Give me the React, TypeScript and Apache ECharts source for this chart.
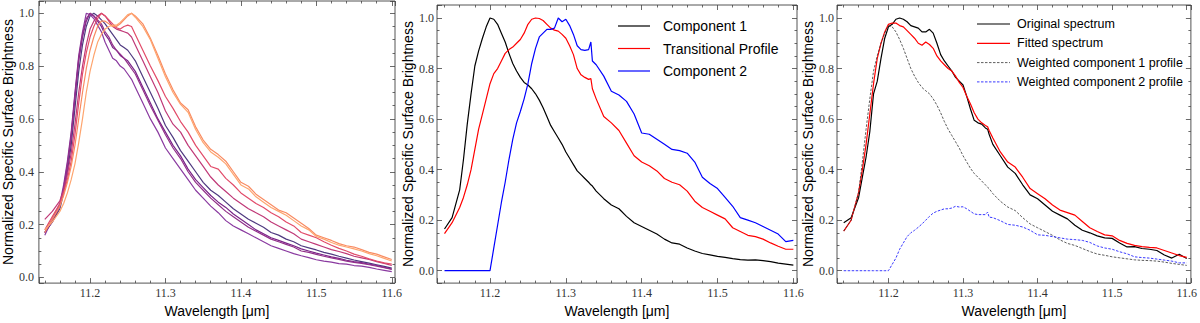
import React, { useEffect, useRef } from "react";
import * as echarts from "echarts";

// ---------- Panel 1: spectra at several positions ----------
const WL1 = [11.14, 11.15, 11.16, 11.165, 11.17, 11.175, 11.18, 11.185, 11.19, 11.195, 11.2, 11.205, 11.21, 11.215, 11.22, 11.225, 11.23, 11.235, 11.24, 11.245, 11.25, 11.255, 11.26, 11.27, 11.28, 11.29, 11.3, 11.31, 11.32, 11.33, 11.34, 11.35, 11.36, 11.37, 11.38, 11.39, 11.4, 11.41, 11.42, 11.43, 11.44, 11.45, 11.46, 11.47, 11.48, 11.49, 11.5, 11.51, 11.52, 11.53, 11.54, 11.55, 11.56, 11.57, 11.58, 11.59, 11.6];

const SPEC_A = [0.16, 0.22, 0.28, 0.35, 0.44, 0.55, 0.70, 0.84, 0.93, 1.0, 0.995, 0.98, 0.955, 0.93, 0.89, 0.86, 0.83, 0.82, 0.80, 0.79, 0.77, 0.75, 0.72,
  0.66, 0.60, 0.55, 0.49, 0.45, 0.41, 0.37, 0.33, 0.30, 0.27, 0.245, 0.215, 0.195, 0.18, 0.165, 0.15, 0.135, 0.12, 0.11, 0.1, 0.09, 0.082, 0.075, 0.067, 0.062, 0.058, 0.052, 0.05, 0.045, 0.043, 0.038, 0.032, 0.027, 0.022];
const SPEC_B = [0.17, 0.21, 0.27, 0.33, 0.42, 0.53, 0.68, 0.82, 0.91, 0.97, 1.0, 0.99, 0.97, 0.95, 0.92, 0.90, 0.87, 0.86, 0.84, 0.83, 0.82, 0.80, 0.78,
  0.72, 0.66, 0.60, 0.55, 0.50, 0.46, 0.41, 0.37, 0.34, 0.31, 0.285, 0.265, 0.24, 0.22, 0.2, 0.18, 0.165, 0.15, 0.14, 0.13, 0.12, 0.108, 0.1, 0.092, 0.085, 0.078, 0.072, 0.065, 0.06, 0.056, 0.05, 0.045, 0.038, 0.032];
const SPEC_C = [0.17, 0.21, 0.26, 0.32, 0.40, 0.50, 0.64, 0.78, 0.88, 0.95, 0.99, 1.0, 0.99, 0.975, 0.96, 0.94, 0.92, 0.90, 0.88, 0.87, 0.86, 0.84, 0.82,
  0.76, 0.70, 0.64, 0.575, 0.53, 0.48, 0.44, 0.40, 0.36, 0.33, 0.31, 0.285, 0.26, 0.24, 0.22, 0.205, 0.19, 0.17, 0.16, 0.145, 0.135, 0.12, 0.112, 0.104, 0.095, 0.088, 0.08, 0.073, 0.066, 0.06, 0.054, 0.048, 0.042, 0.035];
const SPEC_D = [0.17, 0.22, 0.27, 0.34, 0.43, 0.54, 0.69, 0.83, 0.92, 0.98, 1.0, 0.99, 0.975, 0.96, 0.93, 0.91, 0.88, 0.86, 0.845, 0.83, 0.81, 0.79, 0.77,
  0.71, 0.65, 0.595, 0.54, 0.49, 0.45, 0.40, 0.36, 0.33, 0.30, 0.275, 0.25, 0.23, 0.21, 0.19, 0.175, 0.16, 0.145, 0.135, 0.125, 0.115, 0.10, 0.095, 0.087, 0.08, 0.074, 0.068, 0.062, 0.057, 0.053, 0.048, 0.043, 0.037, 0.03];
const SPEC_E = [0.22, 0.25, 0.29, 0.33, 0.39, 0.47, 0.58, 0.70, 0.80, 0.88, 0.94, 0.97, 0.99, 1.0, 0.99, 0.97, 0.95, 0.94, 0.935, 0.93, 0.925, 0.91, 0.88,
  0.82, 0.76, 0.70, 0.63, 0.58, 0.55, 0.50, 0.46, 0.42, 0.38, 0.35, 0.325, 0.30, 0.28, 0.26, 0.245, 0.23, 0.21, 0.195, 0.18, 0.165, 0.145, 0.135, 0.125, 0.115, 0.105, 0.098, 0.09, 0.08, 0.074, 0.068, 0.06, 0.053, 0.045];
const SPEC_F = [0.18, 0.23, 0.28, 0.32, 0.37, 0.44, 0.54, 0.66, 0.77, 0.85, 0.91, 0.95, 0.98, 1.0, 0.99, 0.975, 0.96, 0.945, 0.94, 0.95, 0.955, 0.95, 0.92,
  0.86, 0.80, 0.745, 0.685, 0.64, 0.59, 0.55, 0.50, 0.46, 0.42, 0.41, 0.375, 0.35, 0.32, 0.30, 0.28, 0.265, 0.245, 0.23, 0.21, 0.195, 0.17, 0.16, 0.15, 0.135, 0.122, 0.11, 0.1, 0.088, 0.08, 0.07, 0.062, 0.055, 0.05];
const SPEC_G = [0.17, 0.22, 0.27, 0.31, 0.36, 0.42, 0.50, 0.60, 0.70, 0.79, 0.86, 0.91, 0.95, 0.97, 0.97, 0.96, 0.95, 0.95, 0.96, 0.975, 0.99, 1.0, 0.99,
  0.96, 0.905, 0.84, 0.77, 0.71, 0.66, 0.635, 0.57, 0.52, 0.485, 0.465, 0.44, 0.40, 0.36, 0.345, 0.315, 0.295, 0.275, 0.255, 0.245, 0.225, 0.205, 0.185, 0.16, 0.15, 0.14, 0.128, 0.12, 0.115, 0.105, 0.095, 0.088, 0.078, 0.068];
const SPEC_H = [0.18, 0.21, 0.25, 0.28, 0.32, 0.37, 0.43, 0.51, 0.60, 0.70, 0.78, 0.84, 0.89, 0.92, 0.94, 0.95, 0.955, 0.955, 0.965, 0.98, 0.995, 1.0, 0.985,
  0.95, 0.90, 0.83, 0.76, 0.70, 0.655, 0.625, 0.56, 0.51, 0.475, 0.455, 0.43, 0.39, 0.35, 0.335, 0.305, 0.285, 0.265, 0.25, 0.235, 0.215, 0.195, 0.18, 0.155, 0.145, 0.132, 0.122, 0.115, 0.108, 0.1, 0.09, 0.082, 0.072, 0.062];

const SPECTRA = [SPEC_C, SPEC_A, SPEC_B, SPEC_D, SPEC_E, SPEC_F, SPEC_G, SPEC_H];
const SPECTRA_COLORS = ["#4f3a80", "#8a3aa0", "#7a2589", "#92308a", "#c03a78", "#e24c6a", "#f98b62", "#fea56f"];

// ---------- Panels 2 & 3 ----------
const WL2 = [11.14, 11.15, 11.16, 11.165, 11.17, 11.175, 11.18, 11.185, 11.19, 11.195, 11.2, 11.205, 11.21, 11.215, 11.22, 11.225, 11.23, 11.235, 11.24, 11.245, 11.25, 11.255, 11.26, 11.265, 11.27, 11.275, 11.28, 11.285, 11.29, 11.295, 11.3, 11.305, 11.31, 11.315, 11.32, 11.325, 11.33, 11.333, 11.335, 11.34, 11.35, 11.36, 11.37, 11.38, 11.39, 11.4, 11.41, 11.42, 11.43, 11.44, 11.45, 11.46, 11.47, 11.48, 11.49, 11.5, 11.51, 11.52, 11.53, 11.54, 11.55, 11.56, 11.57, 11.58, 11.59, 11.6];

const COMPONENT_1 = [0.165, 0.21, 0.32, 0.44, 0.58, 0.70, 0.81, 0.87, 0.92, 0.965, 1.0, 0.995, 0.975, 0.94, 0.905, 0.86, 0.82, 0.79, 0.765, 0.745, 0.735, 0.72, 0.70, 0.675, 0.645, 0.61, 0.575, 0.55, 0.525, 0.50, 0.47, 0.445, 0.42, 0.395, 0.38, 0.365, 0.35, 0.34, 0.335, 0.315, 0.285, 0.26, 0.245, 0.215, 0.19, 0.175, 0.16, 0.145, 0.125, 0.11, 0.105, 0.09, 0.078, 0.068, 0.063, 0.057, 0.053, 0.048, 0.044, 0.042, 0.043, 0.04, 0.036, 0.03, 0.026, 0.022];
const TRANSITIONAL = [0.147, 0.19, 0.25, 0.29, 0.34, 0.40, 0.48, 0.56, 0.62, 0.68, 0.74, 0.78, 0.80, 0.83, 0.86, 0.875, 0.885, 0.90, 0.915, 0.94, 0.975, 0.995, 1.0, 0.998, 0.99, 0.975, 0.96, 0.952, 0.948, 0.935, 0.92, 0.89, 0.855, 0.80, 0.775, 0.765, 0.757, 0.76, 0.72, 0.68, 0.61, 0.585, 0.555, 0.505, 0.455, 0.43, 0.415, 0.395, 0.365, 0.35, 0.34, 0.315, 0.275, 0.25, 0.235, 0.22, 0.205, 0.17, 0.155, 0.14, 0.135, 0.125, 0.11, 0.097, 0.085, 0.085];
const COMPONENT_2 = [0, 0, 0, 0, 0, 0, 0, 0, 0, 0, 0, 0.09, 0.18, 0.27, 0.35, 0.44, 0.52, 0.585, 0.63, 0.68, 0.74, 0.82, 0.88, 0.925, 0.94, 0.955, 0.955, 0.96, 1.0, 0.985, 0.995, 0.97, 0.935, 0.89, 0.875, 0.872, 0.875, 0.905, 0.83, 0.815, 0.77, 0.71, 0.695, 0.67, 0.62, 0.545, 0.54, 0.52, 0.50, 0.48, 0.475, 0.465, 0.43, 0.37, 0.345, 0.325, 0.29, 0.255, 0.21, 0.2, 0.19, 0.175, 0.16, 0.145, 0.115, 0.12];

const ORIGINAL = [0.19, 0.21, 0.29, 0.37, 0.45, 0.55, 0.70, 0.75, 0.84, 0.92, 0.965, 0.975, 0.995, 1.0, 0.995, 0.985, 0.97, 0.965, 0.96, 0.945, 0.945, 0.955, 0.94, 0.9, 0.855, 0.83, 0.81, 0.79, 0.765, 0.75, 0.735, 0.69, 0.64, 0.595, 0.585, 0.58, 0.565, 0.56, 0.54, 0.5, 0.455, 0.41, 0.385, 0.34, 0.30, 0.285, 0.26, 0.235, 0.22, 0.205, 0.18, 0.16, 0.15, 0.138, 0.13, 0.128, 0.11, 0.094, 0.095, 0.088, 0.085, 0.08, 0.062, 0.05, 0.065, 0.048];
const FITTED = [0.157, 0.2, 0.31, 0.40, 0.50, 0.62, 0.74, 0.84, 0.90, 0.945, 0.975, 0.98, 0.98, 0.97, 0.965, 0.95, 0.935, 0.92, 0.9, 0.892, 0.905, 0.895, 0.88, 0.85, 0.83, 0.815, 0.8, 0.79, 0.77, 0.745, 0.725, 0.69, 0.66, 0.625, 0.6, 0.585, 0.575, 0.57, 0.555, 0.525, 0.47, 0.43, 0.41, 0.37, 0.325, 0.305, 0.285, 0.26, 0.24, 0.23, 0.22, 0.195, 0.17, 0.155, 0.142, 0.138, 0.12, 0.108, 0.1, 0.095, 0.092, 0.09, 0.08, 0.07, 0.06, 0.053];
const WEIGHTED_1 = [0.157, 0.2, 0.31, 0.43, 0.56, 0.68, 0.79, 0.85, 0.9, 0.94, 0.97, 0.965, 0.945, 0.915, 0.88, 0.84, 0.8, 0.77, 0.745, 0.725, 0.712, 0.70, 0.68, 0.655, 0.625, 0.59, 0.56, 0.535, 0.51, 0.485, 0.455, 0.43, 0.405, 0.385, 0.37, 0.355, 0.34, 0.33, 0.325, 0.305, 0.275, 0.252, 0.238, 0.21, 0.185, 0.17, 0.155, 0.14, 0.122, 0.108, 0.1, 0.088, 0.076, 0.066, 0.061, 0.055, 0.051, 0.047, 0.043, 0.041, 0.04, 0.038, 0.034, 0.029, 0.025, 0.021];
const WEIGHTED_2 = [0, 0, 0, 0, 0, 0, 0, 0, 0, 0, 0, 0.025, 0.05, 0.085, 0.11, 0.135, 0.15, 0.16, 0.172, 0.185, 0.2, 0.215, 0.228, 0.235, 0.24, 0.245, 0.245, 0.248, 0.255, 0.252, 0.253, 0.245, 0.235, 0.225, 0.222, 0.222, 0.222, 0.232, 0.212, 0.21, 0.198, 0.183, 0.18, 0.173, 0.16, 0.142, 0.14, 0.135, 0.13, 0.125, 0.123, 0.12, 0.112, 0.098, 0.09, 0.085, 0.075, 0.067, 0.055, 0.052, 0.05, 0.046, 0.042, 0.038, 0.031, 0.031];

const X_TITLE = "Wavelength [μm]";
const Y_TITLE = "Normalized Specific Surface Brightness";
const LEGEND_2 = ["Component 1", "Transitional Profile", "Component 2"];
const LEGEND_3 = ["Original spectrum", "Fitted spectrum", "Weighted component 1 profile", "Weighted component 2 profile"];

const COL_C1 = "#000000";
const COL_TR = "#ff0000";
const COL_C2 = "#0000ff";
const COL_W1 = "#333333";
const COL_W2 = "#3a3aff";
const DASH = [2.5, 1.5];

const zip = (xs: number[], ys: number[]) => xs.map((x, i) => [x, ys[i]]);

const TICK_COLOR = "#444";
const fmtX = (v: number) => {
  const r = Math.round(v * 10);
  return Math.abs(v * 10 - r) < 1e-6 ? (r / 10).toFixed(1) : "";
};
const fmtY = (v: number) => {
  const r = Math.round(v * 5);
  return Math.abs(v * 5 - r) < 1e-6 && r >= 0 ? (r / 5).toFixed(1) : "";
};

function mkX(gi: number, min: number, max: number, top: boolean, nameGap: number) {
  return {
    type: "value", gridIndex: gi, min, max, position: top ? "top" : "bottom",
    splitNumber: 5,
    axisLine: { show: false, onZero: false },
    axisTick: { show: true, inside: true, length: 5, lineStyle: { color: TICK_COLOR, width: 0.8 } },
    minorTick: { show: true, splitNumber: 5, length: 2.5, lineStyle: { color: TICK_COLOR, width: 0.8 } },
    splitLine: { show: false },
    axisLabel: { show: !top, margin: 4, fontFamily: "Liberation Serif", fontSize: 12, color: "#333", formatter: fmtX },
    name: top ? "" : X_TITLE, nameLocation: "middle", nameGap,
    nameTextStyle: { fontFamily: "Liberation Sans", fontSize: 14, color: "#000" },
  };
}
function mkY(gi: number, min: number, max: number, right: boolean, margin: number) {
  return {
    type: "value", gridIndex: gi, min, max, position: right ? "right" : "left",
    splitNumber: 5,
    axisLine: { show: false, onZero: false },
    axisTick: { show: true, inside: true, length: 5, lineStyle: { color: TICK_COLOR, width: 0.8 } },
    minorTick: { show: true, splitNumber: 4, length: 2.5, lineStyle: { color: TICK_COLOR, width: 0.8 } },
    splitLine: { show: false },
    axisLabel: { show: !right, margin, fontFamily: "Liberation Serif", fontSize: 12, color: "#333", formatter: fmtY },
    name: right ? "" : Y_TITLE, nameLocation: "middle", nameGap: 20,
    nameTextStyle: { fontFamily: "Liberation Sans", fontSize: 14, color: "#000" },
  };
}

function line(name: string, gi: number, xs: number[], ys: number[], color: string, width = 1.2, type: any = "solid") {
  return {
    type: "line", name, xAxisIndex: gi * 2, yAxisIndex: gi * 2,
    data: zip(xs, ys), showSymbol: false, symbol: "none",
    lineStyle: { color, width, type }, itemStyle: { color },
    z: 3,
  };
}

function legendGraphics(names: string[], colors: string[], widths: number[], dashes: any[], x1: number, x2: number, tx: number, y0: number, dy: number, fontSize: number) {
  const els: any[] = [];
  names.forEach((n, i) => {
    const y = y0 + i * dy;
    els.push({
      type: "line", silent: true, z: 10,
      shape: { x1, y1: y, x2, y2: y },
      style: { stroke: colors[i], lineWidth: widths[i], lineDash: dashes[i] || null },
    });
    els.push({
      type: "text", silent: true, z: 10, x: tx, y,
      style: { text: n, fill: "#000", font: `${fontSize}px "Liberation Sans"`, textVerticalAlign: "middle", verticalAlign: "middle", textAlign: "left" },
    });
  });
  return els;
}

export default function App() {
  const ref = useRef<HTMLDivElement>(null);
  useEffect(() => {
    if (!ref.current) return;
    const chart = echarts.init(ref.current, undefined, { renderer: "svg" });
    const gridBase = { show: true, borderColor: "#555", borderWidth: 1, backgroundColor: "transparent", containLabel: false };
    const P1X: [number, number] = [11.1322, 11.6043];
    const P2X: [number, number] = [11.1301, 11.6048];
    const P3X: [number, number] = [11.131, 11.6056];
    const P1Y: [number, number] = [-0.0215, 1.0464];
    const P23Y: [number, number] = [-0.049, 1.0514];

    const series: any[] = [];
    SPECTRA.forEach((s, i) => series.push(line("spec" + i, 0, WL1, s, SPECTRA_COLORS[i], 1.2)));
    series.push(line(LEGEND_2[0], 1, WL2, COMPONENT_1, COL_C1, 1.2));
    series.push(line(LEGEND_2[1], 1, WL2, TRANSITIONAL, COL_TR, 1.2));
    series.push(line(LEGEND_2[2], 1, WL2, COMPONENT_2, COL_C2, 1.2));
    series.push(line(LEGEND_3[0], 2, WL2, ORIGINAL, COL_C1, 1.2));
    series.push(line(LEGEND_3[1], 2, WL2, FITTED, COL_TR, 1.2));
    series.push(line(LEGEND_3[2], 2, WL2, WEIGHTED_1, COL_W1, 0.8, DASH));
    series.push(line(LEGEND_3[3], 2, WL2, WEIGHTED_2, COL_W2, 1.0, DASH));

    const graphic = [
      ...legendGraphics(LEGEND_2, [COL_C1, COL_TR, COL_C2], [1.2, 1.2, 1.2], [null, null, null], 618, 650, 663, 26, 22.5, 14),
      ...legendGraphics(LEGEND_3, [COL_C1, COL_TR, COL_W1, COL_W2], [1.2, 1.2, 0.8, 1.0], [null, null, DASH, DASH], 977, 1010, 1017, 24, 19.3, 12.5),
    ];

    chart.setOption({
      animation: false,
      backgroundColor: "#ffffff",
      grid: [
        { ...gridBase, left: 35, top: 1, width: 360, height: 283 },
        { ...gridBase, left: 437, top: 5, width: 360, height: 285 },
        { ...gridBase, left: 837, top: 5, width: 360, height: 285 },
      ],
      xAxis: [
        mkX(0, P1X[0], P1X[1], false, 18), mkX(0, P1X[0], P1X[1], true, 18),
        mkX(1, P2X[0], P2X[1], false, 19), mkX(1, P2X[0], P2X[1], true, 19),
        mkX(2, P3X[0], P3X[1], false, 19), mkX(2, P3X[0], P3X[1], true, 19),
      ],
      yAxis: [
        mkY(0, P1Y[0], P1Y[1], false, 5), mkY(0, P1Y[0], P1Y[1], true, 5),
        mkY(1, P23Y[0], P23Y[1], false, 3), mkY(1, P23Y[0], P23Y[1], true, 3),
        mkY(2, P23Y[0], P23Y[1], false, 3), mkY(2, P23Y[0], P23Y[1], true, 3),
      ],
      graphic,
      series,
    });
    return () => chart.dispose();
  }, []);
  return <div ref={ref} style={{ position: "absolute", left: 0, top: 0, width: 1200, height: 323 }} />;
}
